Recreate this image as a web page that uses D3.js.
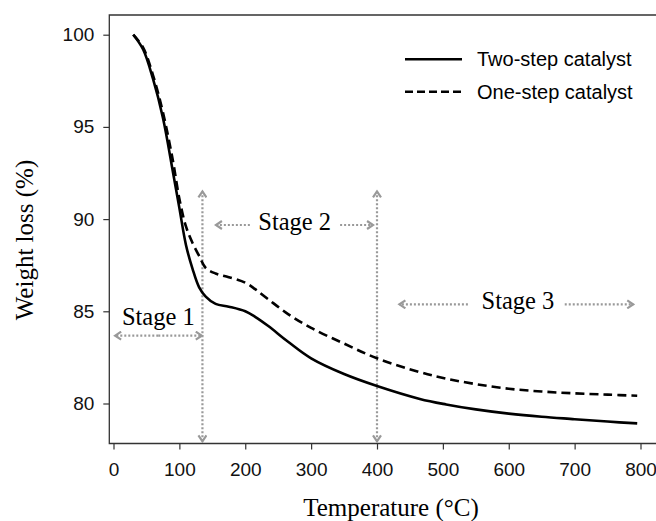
<!DOCTYPE html>
<html>
<head>
<meta charset="utf-8">
<script src="https://cdn.jsdelivr.net/npm/d3@7"></script>
<style>
  body { margin: 0; background: #fff; }
  svg { display: block; }
</style>
</head>
<body>
<div id="chart"></div>
<script>
// TGA curves
const temps = [30, 45, 60, 75, 90, 100, 110, 120, 130, 140, 155, 175, 200, 215, 235, 265, 300, 350, 400, 465, 505, 550, 600, 650, 700, 750, 795]
const twoStep = [100, 99.2, 97.6, 95.5, 92.6, 90.6, 88.6, 87.3, 86.3, 85.8, 85.4, 85.25, 85.0, 84.7, 84.2, 83.35, 82.45, 81.6, 80.95, 80.25, 79.95, 79.68, 79.45, 79.28, 79.15, 79.02, 78.92]
const oneStep = [100, 99.3, 97.8, 95.8, 93.2, 91.1, 89.6, 88.7, 88.0, 87.35, 87.05, 86.85, 86.55, 86.2, 85.65, 84.85, 84.1, 83.25, 82.45, 81.7, 81.35, 81.05, 80.8, 80.65, 80.55, 80.48, 80.42]

const xTicks = [0, 100, 200, 300, 400, 500, 600, 700, 800]
const yTicks = [80, 85, 90, 95, 100]
const seriesNames = ['Two-step catalyst', 'One-step catalyst']

// stage boundaries and labels (data units)
const stageLines = [135, 400]
const stageLineRange = [91.5, 77.95]
const stageLabels = ['Stage 1', 'Stage 2', 'Stage 3']
const stageLabelX = [68, 275, 614]
const stageY = [83.68, 89.68, 85.38]
// arrow segments: [from, to] in temperature, arrow tip at "to"
const stageArrows = [
  [[68, 2.5], [68, 134]],
  [[207, 155.5], [344, 394]],
  [[538, 434], [685, 789]]
]

const width = 656,
  height = 521

const svg = d3.select('#chart')
  .append('svg')
  .attr('width', width)
  .attr('height', height)

const x = d3.scaleLinear()
  .domain([0, 800])
  .range([113.5, 640.5])

const y = d3.scaleLinear()
  .domain([80, 100])
  .range([403.5, 34.7])

const box = { left: 109.3, top: 15, right: 660, bottom: 443.5 }

const serif = '"Times New Roman", "Liberation Serif", serif'
const sans = 'Arial, "Liberation Sans", sans-serif'

// arrow heads
const defs = svg.append('defs')
const chevron = (id, refX, d) => {
  defs.append('marker')
    .attr('id', id)
    .attr('viewBox', '0 0 10 10')
    .attr('refX', refX)
    .attr('refY', 5)
    .attr('markerWidth', 10)
    .attr('markerHeight', 10)
    .attr('markerUnits', 'userSpaceOnUse')
    .attr('orient', 'auto')
    .append('path')
    .attr('d', d)
    .attr('fill', 'none')
    .attr('stroke', '#999')
    .attr('stroke-width', 2.2)
}
chevron('chev', 8, 'M2,1 L8,5 L2,9')
chevron('chevs', 2, 'M8,1 L2,5 L8,9')

// plot box (right side falls off the page)
svg.append('path')
  .attr('d', `M${box.right},${box.top} H${box.left} V${box.bottom} H${box.right}`)
  .attr('fill', 'none')
  .attr('stroke', '#333')
  .attr('stroke-width', 1.3)

// axes
const xAxis = d3.axisBottom(x).tickValues(xTicks).tickSize(6).tickPadding(13)
const gx = svg.append('g')
  .attr('transform', `translate(0,${box.bottom})`)
  .call(xAxis)
gx.select('.domain').remove()

const yAxis = d3.axisLeft(y).tickValues(yTicks).tickSize(6).tickPadding(9)
const gy = svg.append('g')
  .attr('transform', `translate(${box.left},0)`)
  .call(yAxis)
gy.select('.domain').remove()

svg.selectAll('.tick line').attr('stroke', '#333').attr('stroke-width', 1.2)
svg.selectAll('.tick text')
  .attr('fill', '#111')
  .style('font-family', sans)
  .style('font-size', '19px')

// axis titles
svg.append('text')
  .attr('x', 391)
  .attr('y', 516)
  .attr('text-anchor', 'middle')
  .style('font-family', serif)
  .style('font-size', '25px')
  .text('Temperature (°C)')

svg.append('text')
  .attr('transform', 'translate(33,240) rotate(-90)')
  .attr('text-anchor', 'middle')
  .style('font-family', serif)
  .style('font-size', '25px')
  .text('Weight loss (%)')

// stage dividers
svg.selectAll('.stage-line')
  .data(stageLines)
  .enter()
  .append('line')
  .attr('class', 'stage-line')
  .attr('x1', (d) => x(d))
  .attr('x2', (d) => x(d))
  .attr('y1', y(stageLineRange[1]))
  .attr('y2', y(stageLineRange[0]))
  .attr('stroke', '#999')
  .attr('stroke-width', 2.2)
  .attr('stroke-dasharray', '2,2')
  .attr('marker-end', 'url(#chev)')
  .attr('marker-start', 'url(#chevs)')

// stage arrows
stageArrows.forEach((segs, i) => {
  segs.forEach((s) => {
    svg.append('line')
      .attr('x1', x(s[0]))
      .attr('x2', x(s[1]))
      .attr('y1', y(stageY[i]))
      .attr('y2', y(stageY[i]))
      .attr('stroke', '#999')
      .attr('stroke-width', 2.2)
      .attr('stroke-dasharray', '2,2')
      .attr('marker-end', 'url(#chev)')
  })
})

svg.selectAll('.stage-label')
  .data(stageLabels)
  .enter()
  .append('text')
  .attr('class', 'stage-label')
  .attr('x', (d, i) => x(stageLabelX[i]))
  .attr('y', (d, i) => y(stageY[i]) + (i === 0 ? -11 : 5))
  .attr('text-anchor', 'middle')
  .style('font-family', serif)
  .style('font-size', '24.5px')
  .text((d) => d)

// curves
const line = d3.line()
  .x((d) => x(d[0]))
  .y((d) => y(d[1]))
  .curve(d3.curveCatmullRom.alpha(0.5))

const series = [twoStep, oneStep]
svg.selectAll('.curve')
  .data(series)
  .enter()
  .append('path')
  .attr('class', 'curve')
  .attr('d', (vals) => line(temps.map((t, i) => [t, vals[i]])))
  .attr('fill', 'none')
  .attr('stroke', '#000')
  .attr('stroke-width', 2.6)
  .attr('stroke-dasharray', (d, i) => i === 1 ? '9,5' : null)

// legend
const legendY = [59.3, 91.7]
const lg = svg.selectAll('.legend')
  .data(seriesNames)
  .enter()
  .append('g')
  .attr('class', 'legend')
  .attr('transform', (d, i) => `translate(405,${legendY[i]})`)

lg.append('line')
  .attr('x1', 0)
  .attr('x2', 57)
  .attr('stroke', '#000')
  .attr('stroke-width', 2.6)
  .attr('stroke-dasharray', (d, i) => i === 1 ? '8,4' : null)

lg.append('text')
  .attr('x', 72)
  .attr('dy', '0.35em')
  .style('font-family', sans)
  .style('font-size', '20px')
  .text((d) => d)
</script>
</body>
</html>
